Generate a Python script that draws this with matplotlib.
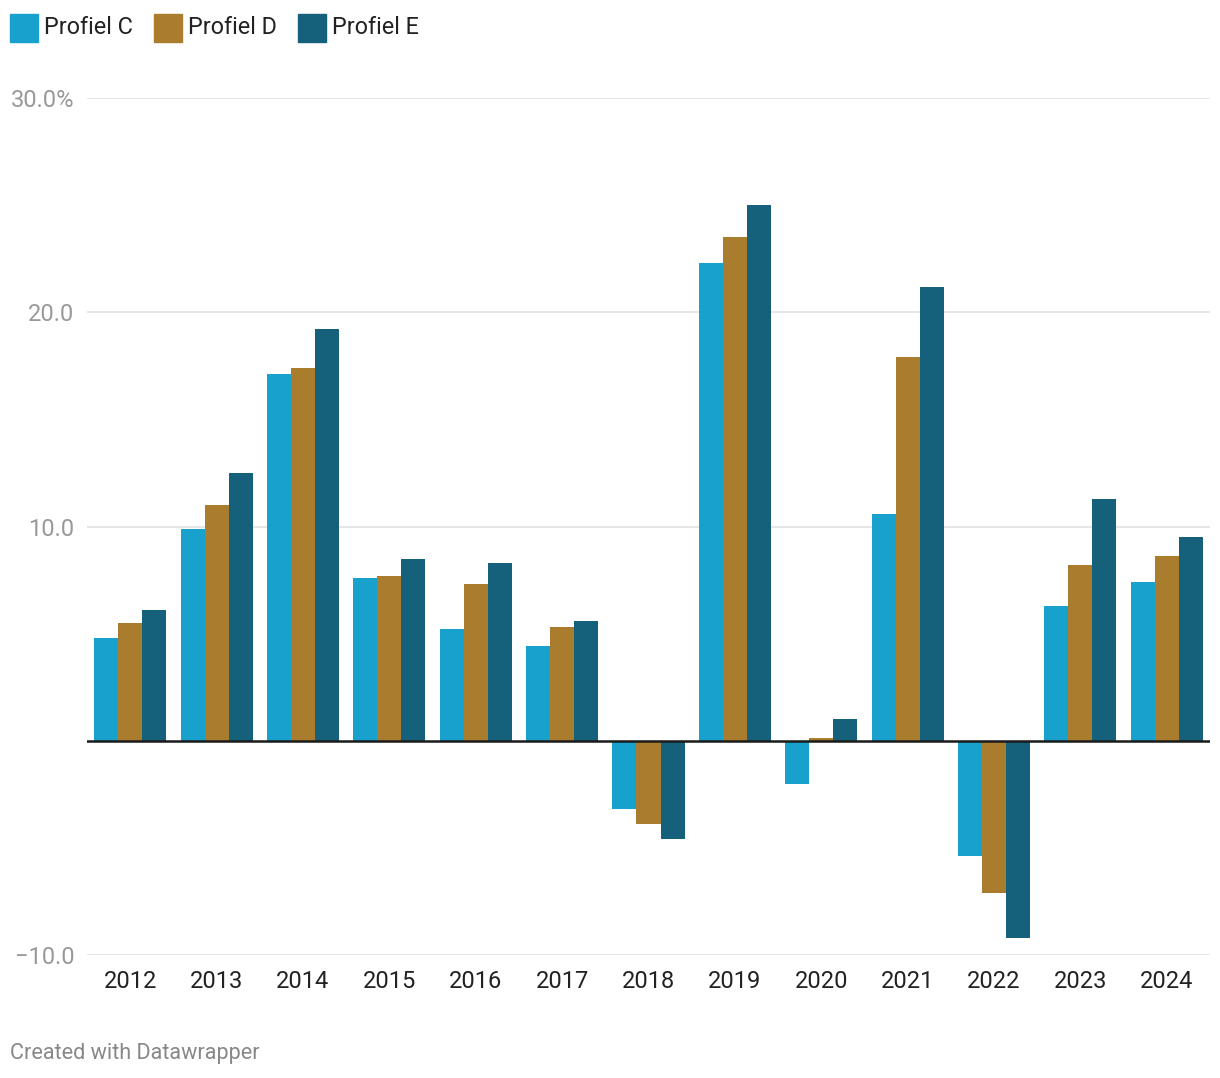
import numpy as np
import matplotlib.pyplot as plt
from matplotlib.patches import Rectangle

plt.rcParams['font.family'] = ['Roboto', 'DejaVu Sans']

# ======= Data =======
years = ['2012', '2013', '2014', '2015', '2016', '2017', '2018',
         '2019', '2020', '2021', '2022', '2023', '2024']
profiel_c = [4.8, 9.9, 17.1, 7.6, 5.2, 4.4, -3.2, 22.3, -2.0, 10.6, -5.4, 6.3, 7.4]
profiel_d = [5.5, 11.0, 17.4, 7.7, 7.3, 5.3, -3.9, 23.5, 0.15, 17.9, -7.1, 8.2, 8.6]
profiel_e = [6.1, 12.5, 19.2, 8.5, 8.3, 5.6, -4.6, 25.0, 1.0, 21.2, -9.2, 11.3, 9.5]
series_names = ['Profiel C', 'Profiel D', 'Profiel E']
colors = ['#18a1cd', '#a97d2d', '#15607a']
y_ticks = [-10, 10, 20, 30]
y_labels = ['\u221210.0', '10.0', '20.0', '30.0%']

W, H = 1220, 1078
fig = plt.figure(figsize=(W / 100, H / 100), dpi=100)
ax = fig.add_axes([87 / W, (H - 955) / H, (1210 - 87) / W, (955 - 98) / H])

x = np.arange(len(years))
bw = 0.278
for i, (vals, col) in enumerate(zip([profiel_c, profiel_d, profiel_e], colors)):
    ax.bar(x + (i - 1) * bw, vals, width=bw, color=col, zorder=3, linewidth=0)

ax.set_xlim(-0.5, len(years) - 0.5)
ax.set_ylim(-10, 30)
ax.set_yticks(y_ticks)
ax.set_yticklabels(y_labels)
ax.set_xticks(x)
ax.set_xticklabels(years)
ax.grid(axis='y', color='#e2e2e2', linewidth=1.2, zorder=0)
ax.axhline(0, color='#1a1a1a', linewidth=1.8, zorder=4)
for s in ax.spines.values():
    s.set_visible(False)
ax.tick_params(axis='y', length=0, pad=9, labelsize=17, labelcolor='#999999')
ax.tick_params(axis='x', length=0, pad=11, labelsize=17, labelcolor='#222222')

# ======= Legend =======
lx = 10
for name, col in zip(series_names, colors):
    fig.patches.append(Rectangle((lx / W, 1 - 42 / H), 28 / W, 28 / H,
                                 transform=fig.transFigure, color=col))
    t = fig.text((lx + 34) / W, 1 - 27 / H, name, fontsize=16.8, color='#222222',
                 va='center', ha='left')
    fig.canvas.draw()
    bb = t.get_window_extent()
    lx = bb.x1 + 21

fig.text(10 / W, 1 - 1053 / H, 'Created with Datawrapper', fontsize=15.6,
         color='#888888', va='center', ha='left')

fig.savefig('out.png', dpi=100)
